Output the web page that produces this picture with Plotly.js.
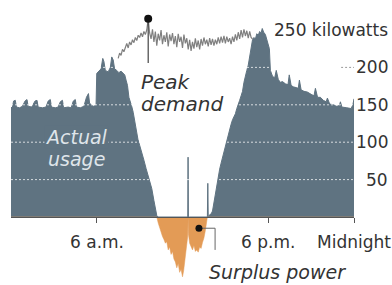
<!DOCTYPE html>
<html>
<head>
<meta charset="utf-8">
<script src="https://cdn.plot.ly/plotly-3.0.1.min.js"></script>
<style>html,body{margin:0;padding:0;background:#fff;}#chart{width:392px;height:285px;}</style>
</head>
<body>
<div id="chart"></div>
<script>
// Net power drawn from the grid (kW) over one day; negative = surplus power
const usageHours = [
  0.00,0.10,0.18,0.30,0.38,0.60,0.80,0.98,1.12,1.20,1.45,1.68,1.82,1.90,2.20,2.45,2.60,2.75,2.83,3.10,
  3.30,3.45,3.60,3.68,4.00,4.20,4.36,4.50,4.58,4.85,5.10,5.28,5.42,5.50,5.75,5.95,6.00,6.15,6.30,6.42,
  6.50,6.60,6.80,6.95,7.05,7.15,7.25,7.40,7.55,7.70,7.85,7.96,8.05,8.15,8.25,8.35,8.46,8.55,8.65,8.75,
  8.88,9.00,9.10,9.20,9.30,9.45,9.60,9.72,9.85,10.00,10.10,10.20,10.30,10.40,10.50,10.60,10.70,10.80,10.90,11.00,
  11.10,11.20,11.30,11.40,11.50,11.60,11.70,11.80,11.90,12.00,12.08,12.16,12.24,12.32,12.37,12.39,12.41,12.50,12.60,12.70,
  12.80,12.90,13.00,13.10,13.20,13.30,13.40,13.50,13.60,13.68,13.74,13.77,13.80,13.90,14.00,14.10,14.20,14.30,14.40,14.50,
  14.60,14.70,14.80,14.90,15.00,15.10,15.20,15.30,15.40,15.50,15.60,15.70,15.80,15.90,16.00,16.10,16.20,16.30,16.40,16.50,
  16.60,16.70,16.80,16.90,17.00,17.10,17.20,17.30,17.40,17.50,17.58,17.68,17.80,17.90,18.00,18.08,18.15,18.30,18.45,18.56,
  18.70,18.84,19.00,19.20,19.38,19.47,19.60,19.75,19.95,20.10,20.18,20.30,20.50,20.74,21.00,21.20,21.30,21.45,21.65,21.85,
  22.05,22.14,22.30,22.56,22.80,22.98,23.05,23.15,23.50,23.80,23.92,23.96,24.00
];
const usageKW = [
  146,147,155,156,147,146,148,155,157,148,147,155,156,147,146,147,155,157,147,146,
  147,154,156,146,147,146,155,157,147,146,148,160,165,152,148,149,192,195,198,212,
  208,196,194,200,214,210,198,196,193,195,192,190,183,176,160,155,147,140,128,118,
  104,96,90,82,76,65,55,48,38,22,12,2,-8,-15,-20,-26,-30,-35,-33,-44,
  -40,-50,-46,-56,-60,-68,-62,-74,-70,-80,-72,-60,-50,-35,-25,80,-22,-35,-40,-44,
  -38,-46,-44,-47,-40,-42,-34,-28,-18,-5,0,45,0,3,4,8,20,32,45,56,
  64,72,80,88,95,104,110,118,124,130,134,138,145,152,156,162,168,180,190,196,
  203,215,228,237,240,238,245,243,248,246,252,247,244,238,233,225,196,188,186,196,
  184,180,181,178,177,190,176,174,173,172,183,170,168,167,164,162,172,160,160,156,
  154,159,151,150,148,149,154,147,146,145,150,158,158
];

// Total demand (kW) during daylight hours, drawn as a line
const demandStart = 7.5;
const demandKW = [
  212,219,216,224,221,228,232,226,234,230,237,233,240,236,243,240,246,241,248,244,
  250,265,246,238,251,234,248,229,245,236,250,231,243,234,247,228,244,235,246,231,
  242,227,245,234,241,226,244,232,239,224,237,222,234,225,239,227,236,224,238,229,
  240,231,237,228,239,230,238,229,237,231,240,232,241,233,242,232,241,234,239,231,
  241,234,244,236,247,238,250,240,251,242,249,239,248,240,238
];
const demandHours = demandKW.map((_, i) => +(demandStart + i * 0.1).toFixed(2));

// Callouts
const peakPoint = {hour: 9.6, kw: 265};
const peakStemKW = [265, 206];
const surplusPoint = {hour: 13.15, kw: -15};
const surplusLeaderHours = [13.15, 14.28, 14.28];
const surplusLeaderKW = [-15, -15, -44];

// Axes
const xTickVals = [6, 18, 24];
const xTickText = ['6 a.m.', '6 p.m.', 'Midnight'];
const yGridVals = [50, 100, 150, 200];
const yTopVal = 250;
const yTopText = '250 kilowatts';

const FILL = '#5f7381';
const ORANGE = '#e39b56';
const FONT = 'DejaVu Sans';

const posKW = usageKW.map(v => Math.max(v, 0));
const negKW = usageKW.map(v => Math.min(v, 0));

const traces = [
  {x: usageHours, y: posKW, type: 'scatter', mode: 'lines', fill: 'tozeroy',
   fillcolor: FILL, line: {color: FILL, width: 1}, hoverinfo: 'skip'},
  {x: usageHours, y: negKW, type: 'scatter', mode: 'lines', fill: 'tozeroy',
   fillcolor: ORANGE, line: {color: ORANGE, width: 0.5}, hoverinfo: 'skip'},
  {x: demandHours, y: demandKW, type: 'scatter', mode: 'lines',
   line: {color: '#808080', width: 1.2}, hoverinfo: 'skip'},
  {x: [peakPoint.hour, peakPoint.hour], y: peakStemKW, type: 'scatter', mode: 'lines',
   line: {color: '#444', width: 1.2}, hoverinfo: 'skip'},
  {x: [peakPoint.hour], y: [peakPoint.kw], type: 'scatter', mode: 'markers',
   marker: {color: '#111', size: 8}, hoverinfo: 'skip'},
  {x: surplusLeaderHours, y: surplusLeaderKW, type: 'scatter', mode: 'lines',
   line: {color: '#666', width: 1}, hoverinfo: 'skip'},
  {x: [surplusPoint.hour], y: [surplusPoint.kw], type: 'scatter', mode: 'markers',
   marker: {color: '#111', size: 7}, hoverinfo: 'skip'}
];

const shapes = yGridVals.map(v => ({
  type: 'line', xref: 'x', yref: 'y', x0: 0, x1: 24, y0: v, y1: v, layer: 'above',
  line: {color: 'rgba(255,255,255,0.75)', width: 1, dash: '2px,2px'}
}));
shapes.push({type: 'line', xref: 'x', yref: 'y', x0: 23.1, x1: 24, y0: 200, y1: 200,
  layer: 'below', line: {color: '#999', width: 1, dash: '2px,2px'}});

const annotations = [];
yGridVals.forEach(v => annotations.push({
  xref: 'paper', yref: 'y', x: 1.105, y: v, xanchor: 'right', yanchor: 'middle',
  text: String(v), showarrow: false, font: {family: FONT, size: 17, color: '#333'}
}));
annotations.push({xref: 'paper', yref: 'y', x: 1.105, y: yTopVal, xanchor: 'right', yanchor: 'middle',
  text: yTopText, showarrow: false, font: {family: FONT, size: 17, color: '#333'}});
xTickVals.forEach((v, i) => annotations.push({
  xref: 'x', yref: 'y', x: v, y: -33, xanchor: 'center', yanchor: 'middle',
  text: xTickText[i], showarrow: false, font: {family: FONT, size: 17, color: '#333'}
}));
const italic = (t, x, y, color, size, anchor, bg) => ({
  xref: 'x', yref: 'y', x: x, y: y, xanchor: anchor, yanchor: 'middle',
  text: '<i>' + t + '</i>', showarrow: false, font: {family: FONT, size: size, color: color},
  bgcolor: bg || 'rgba(0,0,0,0)', borderpad: 0
});
annotations.push(italic('Actual', 4.56, 107, '#dfe5ea', 19, 'center', FILL));
annotations.push(italic('usage', 4.56, 78, '#dfe5ea', 19, 'center'));
annotations.push(italic('Peak', 9.05, 180, '#333', 20, 'left'));
annotations.push(italic('demand', 9.0, 151, '#333', 20, 'left'));
annotations.push(italic('Surplus power', 13.75, -73.5, '#333', 19, 'left'));

const layout = {
  width: 392, height: 285,
  margin: {l: 11, r: 38, t: 0, b: 0, pad: 0},
  paper_bgcolor: '#fff', plot_bgcolor: '#fff',
  showlegend: false,
  font: {family: FONT, color: '#333'},
  xaxis: {range: [0, 24], anchor: 'free', position: 68 / 285,
    showline: true, linecolor: '#555', linewidth: 1,
    ticks: 'outside', ticklen: 5, tickcolor: '#555', tickwidth: 1,
    tickvals: xTickVals, showticklabels: false, showgrid: false, zeroline: false, fixedrange: true},
  yaxis: {range: [-90.9, 290.1], visible: false, showgrid: false, zeroline: false, fixedrange: true},
  shapes: shapes,
  annotations: annotations
};

Plotly.newPlot('chart', traces, layout, {displayModeBar: false, staticPlot: true});
</script>
</body>
</html>
